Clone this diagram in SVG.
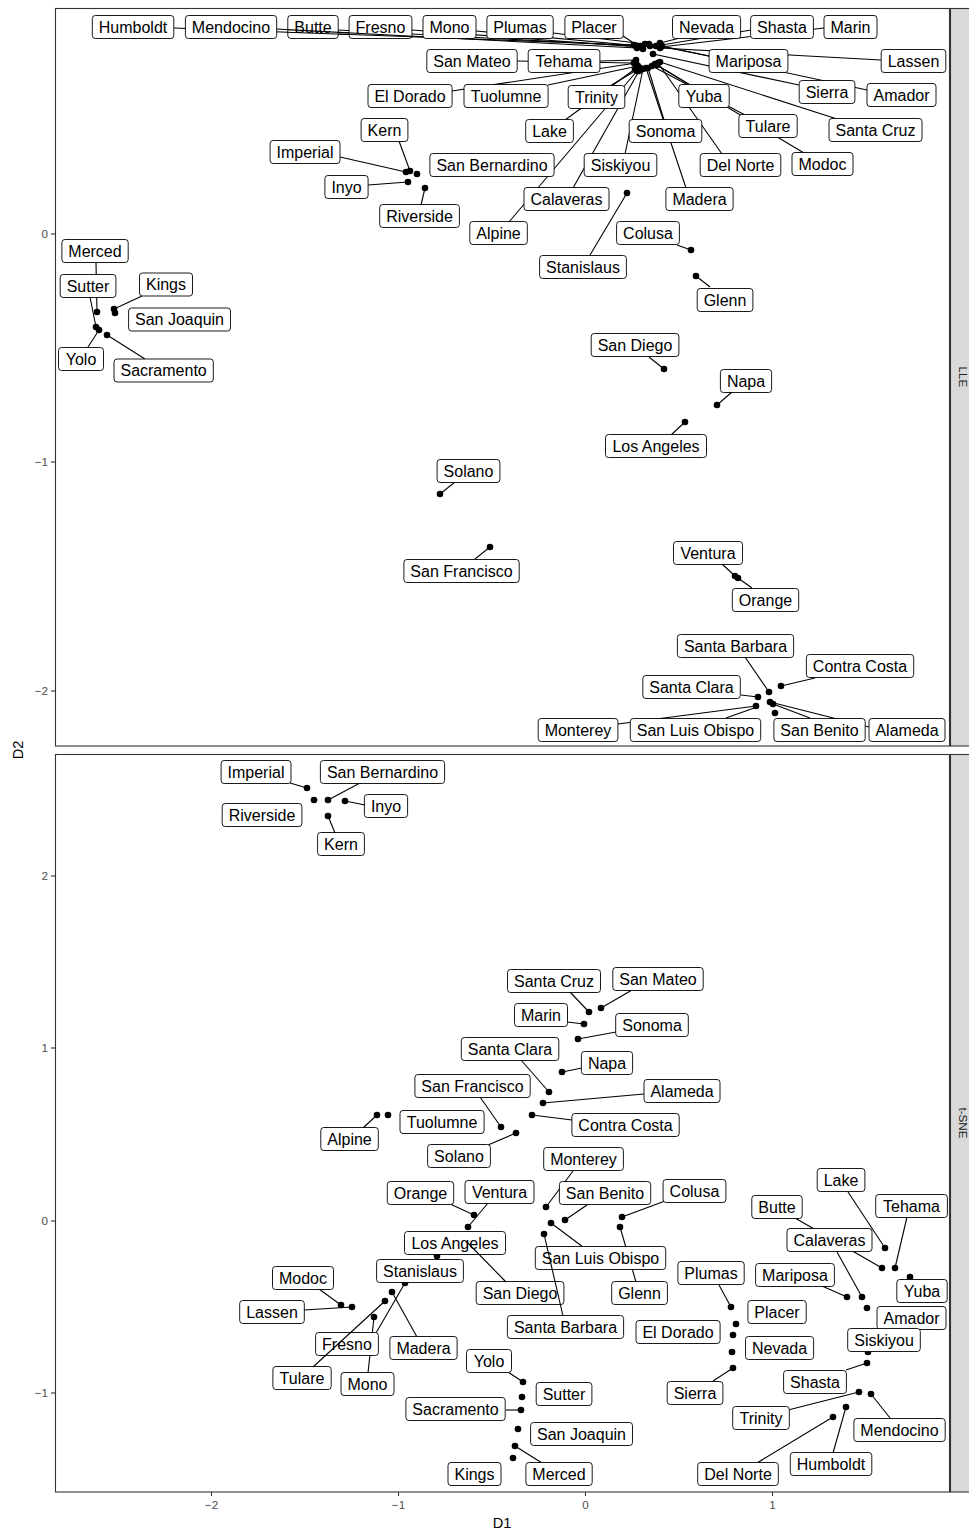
<svg xmlns="http://www.w3.org/2000/svg" width="969" height="1532" viewBox="0 0 969 1532">
<style>
.bg{fill:#fff}
.panel{fill:#fff;stroke:#333;stroke-width:1.1}
.strip{fill:#d9d9d9;stroke:#333;stroke-width:1.1}
.strip-t{font-family:"Liberation Sans",Arial,sans-serif;font-size:11.7px;fill:#1a1a1a;text-anchor:middle}
.tick{stroke:#333;stroke-width:1.1}
.tl{font-family:"Liberation Sans",Arial,sans-serif;font-size:11.7px;fill:#4d4d4d}
.at{font-family:"Liberation Sans",Arial,sans-serif;font-size:14.6px;fill:#000;text-anchor:middle}
.seg line{stroke:#000;stroke-width:1.1}
.pts circle{fill:#000}
.lbl rect{fill:#fff;stroke:#000;stroke-width:0.9}
.lbl text{font-family:"Liberation Sans",Arial,sans-serif;font-size:16px;fill:#000;text-anchor:middle}
</style>
<rect class="bg" x="0" y="0" width="969" height="1532"/>

<!-- ================= LLE panel ================= -->
<g id="panel-lle">
<rect class="panel" x="55.5" y="8.5" width="894" height="737.5"/>
<rect class="strip" x="950.5" y="8.5" width="30" height="737.5"/>
<text class="strip-t" transform="translate(959,377) rotate(90)">LLE</text>
<line class="tick" x1="51" y1="234" x2="55" y2="234"/>
<line class="tick" x1="51" y1="462" x2="55" y2="462"/>
<line class="tick" x1="51" y1="691" x2="55" y2="691"/>
<text class="tl" x="48" y="238" text-anchor="end">0</text>
<text class="tl" x="48" y="466" text-anchor="end">−1</text>
<text class="tl" x="48" y="695" text-anchor="end">−2</text>
</g>

<g id="points-lle" class="pts">
<circle cx="406" cy="172" r="3.3"/><circle cx="410" cy="171" r="3.3"/><circle cx="417" cy="174" r="3.3"/><circle cx="408" cy="182" r="3.3"/><circle cx="425" cy="188" r="3.3"/>
<circle cx="97" cy="312" r="3.3"/><circle cx="96" cy="327" r="3.3"/><circle cx="99" cy="330" r="3.3"/><circle cx="114" cy="309" r="3.3"/><circle cx="115" cy="313" r="3.3"/><circle cx="107" cy="335" r="3.3"/>
<circle cx="627" cy="193" r="3.3"/><circle cx="691" cy="250" r="3.3"/><circle cx="696" cy="276" r="3.3"/><circle cx="664" cy="369" r="3.3"/><circle cx="717" cy="405" r="3.3"/><circle cx="685" cy="422" r="3.3"/>
<circle cx="440" cy="494" r="3.3"/><circle cx="490" cy="547" r="3.3"/><circle cx="735" cy="576" r="3.3"/><circle cx="738" cy="578" r="3.3"/>
<circle cx="769" cy="692" r="3.3"/><circle cx="781" cy="686" r="3.3"/><circle cx="758" cy="697" r="3.3"/><circle cx="756" cy="706" r="3.3"/><circle cx="770" cy="702" r="3.3"/><circle cx="773" cy="704" r="3.3"/><circle cx="775" cy="713" r="3.3"/>
<circle cx="634" cy="45" r="3.3"/><circle cx="637" cy="48" r="3.3"/><circle cx="636" cy="46" r="3.3"/><circle cx="639" cy="47" r="3.3"/><circle cx="641" cy="46" r="3.3"/><circle cx="645" cy="44" r="3.3"/><circle cx="643" cy="49" r="3.3"/><circle cx="660" cy="43" r="3.3"/><circle cx="656" cy="46" r="3.3"/><circle cx="661" cy="47" r="3.3"/><circle cx="649" cy="44" r="3.3"/><circle cx="660" cy="48" r="3.3"/><circle cx="662" cy="46" r="3.3"/><circle cx="653" cy="54" r="3.3"/><circle cx="650" cy="46" r="3.3"/>
<circle cx="634" cy="63" r="3.3"/><circle cx="636" cy="60" r="3.3"/><circle cx="636" cy="63" r="3.3"/><circle cx="638" cy="66" r="3.3"/><circle cx="640" cy="68" r="3.3"/><circle cx="657" cy="65" r="3.3"/><circle cx="635" cy="69" r="3.3"/><circle cx="648" cy="68" r="3.3"/><circle cx="652" cy="66" r="3.3"/><circle cx="660" cy="62" r="3.3"/><circle cx="643" cy="69" r="3.3"/><circle cx="658" cy="63" r="3.3"/><circle cx="655" cy="64" r="3.3"/><circle cx="639" cy="71" r="3.3"/><circle cx="646" cy="68" r="3.3"/><circle cx="637" cy="71" r="3.3"/>
</g>

<g id="connectors-lle" class="seg">
<line x1="174" y1="28" x2="634" y2="45"/>
<line x1="276" y1="29" x2="637" y2="48"/>
<line x1="338" y1="30" x2="636" y2="46"/>
<line x1="412" y1="30" x2="639" y2="47"/>
<line x1="476" y1="31" x2="641" y2="46"/>
<line x1="553" y1="33" x2="645" y2="44"/>
<line x1="623" y1="36" x2="643" y2="49"/>
<line x1="680" y1="38" x2="660" y2="43"/>
<line x1="751" y1="30" x2="656" y2="46"/>
<line x1="824" y1="28" x2="661" y2="47"/>
<line x1="517" y1="61" x2="634" y2="63"/>
<line x1="600" y1="61" x2="636" y2="60"/>
<line x1="709" y1="56" x2="649" y2="44"/>
<line x1="881" y1="60" x2="660" y2="48"/>
<line x1="452" y1="91" x2="636" y2="63"/>
<line x1="548" y1="85" x2="638" y2="66"/>
<line x1="610" y1="86" x2="640" y2="68"/>
<line x1="690" y1="85" x2="657" y2="65"/>
<line x1="799" y1="85" x2="653" y2="54"/>
<line x1="867" y1="90" x2="662" y2="46"/>
<line x1="565" y1="120" x2="635" y2="69"/>
<line x1="664" y1="120" x2="648" y2="68"/>
<line x1="745" y1="115" x2="652" y2="66"/>
<line x1="837" y1="119" x2="660" y2="62"/>
<line x1="625" y1="154" x2="643" y2="69"/>
<line x1="722" y1="154" x2="658" y2="63"/>
<line x1="804" y1="153" x2="655" y2="64"/>
<line x1="573" y1="188" x2="639" y2="71"/>
<line x1="686" y1="188" x2="646" y2="68"/>
<line x1="509" y1="222" x2="637" y2="71"/>
<line x1="340" y1="157" x2="406" y2="172"/>
<line x1="399" y1="141" x2="410" y2="171"/>
<line x1="368" y1="185" x2="408" y2="182"/>
<line x1="421" y1="205" x2="425" y2="188"/>
<line x1="96" y1="263" x2="97" y2="312"/>
<line x1="90" y1="297" x2="96" y2="327"/>
<line x1="88" y1="347" x2="99" y2="330"/>
<line x1="142" y1="296" x2="114" y2="309"/>
<line x1="145" y1="359" x2="107" y2="335"/>
<line x1="590" y1="255" x2="627" y2="193"/>
<line x1="677" y1="245" x2="691" y2="250"/>
<line x1="710" y1="287" x2="696" y2="276"/>
<line x1="649" y1="357" x2="664" y2="369"/>
<line x1="732" y1="392" x2="717" y2="405"/>
<line x1="671" y1="435" x2="685" y2="422"/>
<line x1="455" y1="482" x2="440" y2="494"/>
<line x1="475" y1="559" x2="490" y2="547"/>
<line x1="722" y1="564" x2="735" y2="576"/>
<line x1="752" y1="588" x2="738" y2="578"/>
<line x1="745" y1="657" x2="769" y2="692"/>
<line x1="815" y1="678" x2="781" y2="686"/>
<line x1="741" y1="695" x2="758" y2="697"/>
<line x1="618" y1="724" x2="756" y2="706"/>
<line x1="726" y1="718" x2="757" y2="707"/>
<line x1="810" y1="718" x2="773" y2="704"/>
<line x1="869" y1="727" x2="770" y2="702"/>
</g>

<g id="lle-humboldt" class="lbl"><rect x="92.3" y="15.5" width="81.5" height="23" rx="3"/><text x="133" y="32.6">Humboldt</text></g>
<g id="lle-mendocino" class="lbl"><rect x="185.4" y="15.5" width="91.3" height="23" rx="3"/><text x="231" y="32.6">Mendocino</text></g>
<g id="lle-butte" class="lbl"><rect x="287.8" y="15.5" width="50.4" height="23" rx="3"/><text x="313" y="32.6">Butte</text></g>
<g id="lle-fresno" class="lbl"><rect x="349.1" y="15.5" width="62.8" height="23" rx="3"/><text x="380.5" y="32.6">Fresno</text></g>
<g id="lle-mono" class="lbl"><rect x="423" y="15.5" width="53" height="23" rx="3"/><text x="449.5" y="32.6">Mono</text></g>
<g id="lle-plumas" class="lbl"><rect x="486.9" y="15.5" width="66.3" height="23" rx="3"/><text x="520" y="32.6">Plumas</text></g>
<g id="lle-placer" class="lbl"><rect x="564.9" y="15.5" width="58.3" height="23" rx="3"/><text x="594" y="32.6">Placer</text></g>
<g id="lle-nevada" class="lbl"><rect x="672.5" y="15.5" width="68.1" height="23" rx="3"/><text x="706.5" y="32.6">Nevada</text></g>
<g id="lle-shasta" class="lbl"><rect x="750.6" y="15.5" width="62.8" height="23" rx="3"/><text x="782" y="32.6">Shasta</text></g>
<g id="lle-marin" class="lbl"><rect x="824" y="15.5" width="53" height="23" rx="3"/><text x="850.5" y="32.6">Marin</text></g>
<g id="lle-san-mateo" class="lbl"><rect x="426.8" y="49.5" width="90.4" height="23" rx="3"/><text x="472" y="66.6">San Mateo</text></g>
<g id="lle-tehama" class="lbl"><rect x="528.2" y="49.5" width="71.7" height="23" rx="3"/><text x="564" y="66.6">Tehama</text></g>
<g id="lle-mariposa" class="lbl"><rect x="709.1" y="49.5" width="78.8" height="23" rx="3"/><text x="748.5" y="66.6">Mariposa</text></g>
<g id="lle-lassen" class="lbl"><rect x="881.2" y="49.5" width="64.6" height="23" rx="3"/><text x="913.5" y="66.6">Lassen</text></g>
<g id="lle-el-dorado" class="lbl"><rect x="368" y="84.5" width="84.1" height="23" rx="3"/><text x="410" y="101.6">El Dorado</text></g>
<g id="lle-tuolumne" class="lbl"><rect x="464" y="84.5" width="84.1" height="23" rx="3"/><text x="506" y="101.6">Tuolumne</text></g>
<g id="lle-trinity" class="lbl"><rect x="568.2" y="85.5" width="56.6" height="23" rx="3"/><text x="596.5" y="102.6">Trinity</text></g>
<g id="lle-yuba" class="lbl"><rect x="678.8" y="84.5" width="50.4" height="23" rx="3"/><text x="704" y="101.6">Yuba</text></g>
<g id="lle-sierra" class="lbl"><rect x="799.2" y="80.5" width="55.7" height="23" rx="3"/><text x="827" y="97.6">Sierra</text></g>
<g id="lle-amador" class="lbl"><rect x="867" y="83.5" width="69" height="23" rx="3"/><text x="901.5" y="100.6">Amador</text></g>
<g id="lle-kern" class="lbl"><rect x="361.1" y="118.5" width="46.8" height="23" rx="3"/><text x="384.5" y="135.6">Kern</text></g>
<g id="lle-lake" class="lbl"><rect x="525.7" y="119.5" width="47.7" height="23" rx="3"/><text x="549.5" y="136.6">Lake</text></g>
<g id="lle-sonoma" class="lbl"><rect x="629.2" y="119.5" width="72.6" height="23" rx="3"/><text x="665.5" y="136.6">Sonoma</text></g>
<g id="lle-tulare" class="lbl"><rect x="738.9" y="114.5" width="58.3" height="23" rx="3"/><text x="768" y="131.6">Tulare</text></g>
<g id="lle-santa-cruz" class="lbl"><rect x="829" y="118.5" width="93" height="23" rx="3"/><text x="875.5" y="135.6">Santa Cruz</text></g>
<g id="lle-imperial" class="lbl"><rect x="270.1" y="140.5" width="69.9" height="23" rx="3"/><text x="305" y="157.6">Imperial</text></g>
<g id="lle-san-bernardino" class="lbl"><rect x="429.9" y="153.5" width="124.2" height="23" rx="3"/><text x="492" y="170.6">San Bernardino</text></g>
<g id="lle-siskiyou" class="lbl"><rect x="584.2" y="153.5" width="72.6" height="23" rx="3"/><text x="620.5" y="170.6">Siskiyou</text></g>
<g id="lle-del-norte" class="lbl"><rect x="700.2" y="153.5" width="80.6" height="23" rx="3"/><text x="740.5" y="170.6">Del Norte</text></g>
<g id="lle-modoc" class="lbl"><rect x="792" y="152.5" width="61" height="23" rx="3"/><text x="822.5" y="169.6">Modoc</text></g>
<g id="lle-inyo" class="lbl"><rect x="324.9" y="175.5" width="43.2" height="23" rx="3"/><text x="346.5" y="192.6">Inyo</text></g>
<g id="lle-calaveras" class="lbl"><rect x="524" y="187.5" width="85" height="23" rx="3"/><text x="566.5" y="204.6">Calaveras</text></g>
<g id="lle-madera" class="lbl"><rect x="665.9" y="187.5" width="67.2" height="23" rx="3"/><text x="699.5" y="204.6">Madera</text></g>
<g id="lle-riverside" class="lbl"><rect x="379.7" y="204.5" width="79.7" height="23" rx="3"/><text x="419.5" y="221.6">Riverside</text></g>
<g id="lle-alpine" class="lbl"><rect x="469.8" y="221.5" width="57.5" height="23" rx="3"/><text x="498.5" y="238.6">Alpine</text></g>
<g id="lle-colusa" class="lbl"><rect x="616.6" y="221.5" width="62.8" height="23" rx="3"/><text x="648" y="238.6">Colusa</text></g>
<g id="lle-stanislaus" class="lbl"><rect x="539.6" y="255.5" width="86.8" height="23" rx="3"/><text x="583" y="272.6">Stanislaus</text></g>
<g id="lle-glenn" class="lbl"><rect x="697.2" y="288.5" width="55.7" height="23" rx="3"/><text x="725" y="305.6">Glenn</text></g>
<g id="lle-merced" class="lbl"><rect x="61.9" y="239.5" width="66.3" height="23" rx="3"/><text x="95" y="256.6">Merced</text></g>
<g id="lle-sutter" class="lbl"><rect x="60.2" y="274.5" width="55.7" height="23" rx="3"/><text x="88" y="291.6">Sutter</text></g>
<g id="lle-kings" class="lbl"><rect x="139.5" y="273" width="53" height="23" rx="3"/><text x="166" y="290.1">Kings</text></g>
<g id="lle-san-joaquin" class="lbl"><rect x="128.6" y="308" width="101.9" height="23" rx="3"/><text x="179.5" y="325.1">San Joaquin</text></g>
<g id="lle-yolo" class="lbl"><rect x="58.5" y="347.5" width="45" height="23" rx="3"/><text x="81" y="364.6">Yolo</text></g>
<g id="lle-sacramento" class="lbl"><rect x="114" y="359" width="99.3" height="23" rx="3"/><text x="163.6" y="376.1">Sacramento</text></g>
<g id="lle-san-diego" class="lbl"><rect x="591.2" y="333.5" width="87.7" height="23" rx="3"/><text x="635" y="350.6">San Diego</text></g>
<g id="lle-napa" class="lbl"><rect x="720.4" y="369.5" width="51.2" height="23" rx="3"/><text x="746" y="386.6">Napa</text></g>
<g id="lle-los-angeles" class="lbl"><rect x="605.5" y="434.5" width="101" height="23" rx="3"/><text x="656" y="451.6">Los Angeles</text></g>
<g id="lle-solano" class="lbl"><rect x="437.1" y="459.5" width="62.8" height="23" rx="3"/><text x="468.5" y="476.6">Solano</text></g>
<g id="lle-san-francisco" class="lbl"><rect x="403.9" y="559.5" width="115.3" height="23" rx="3"/><text x="461.5" y="576.6">San Francisco</text></g>
<g id="lle-ventura" class="lbl"><rect x="673.5" y="541.5" width="69" height="23" rx="3"/><text x="708" y="558.6">Ventura</text></g>
<g id="lle-orange" class="lbl"><rect x="732.3" y="588.5" width="66.4" height="23" rx="3"/><text x="765.5" y="605.6">Orange</text></g>
<g id="lle-santa-barbara" class="lbl"><rect x="677.4" y="634.5" width="116.2" height="23" rx="3"/><text x="735.5" y="651.6">Santa Barbara</text></g>
<g id="lle-contra-costa" class="lbl"><rect x="806.4" y="654.5" width="107.3" height="23" rx="3"/><text x="860" y="671.6">Contra Costa</text></g>
<g id="lle-santa-clara" class="lbl"><rect x="642.8" y="675.5" width="97.5" height="23" rx="3"/><text x="691.5" y="692.6">Santa Clara</text></g>
<g id="lle-monterey" class="lbl"><rect x="538.2" y="718.5" width="79.7" height="23" rx="3"/><text x="578" y="735.6">Monterey</text></g>
<g id="lle-san-luis-obispo" class="lbl"><rect x="630.3" y="718.5" width="130.4" height="23" rx="3"/><text x="695.5" y="735.6">San Luis Obispo</text></g>
<g id="lle-san-benito" class="lbl"><rect x="773.9" y="718.5" width="91.3" height="23" rx="3"/><text x="819.5" y="735.6">San Benito</text></g>
<g id="lle-alameda" class="lbl"><rect x="869" y="718.5" width="76" height="23" rx="3"/><text x="907" y="735.6">Alameda</text></g>

<g id="connectors-lle-over" class="seg">
<line x1="287" y1="32.2" x2="413" y2="36.8"/>
<line x1="287" y1="29.6" x2="413" y2="36.2"/>
</g>

<!-- ================= t-SNE panel ================= -->
<g id="panel-tsne">
<rect class="panel" x="55.5" y="754.5" width="894" height="737.5"/>
<rect class="strip" x="950.5" y="754.5" width="30" height="737.5"/>
<text class="strip-t" transform="translate(959,1123) rotate(90)">t-SNE</text>
<line class="tick" x1="51" y1="876" x2="55" y2="876"/>
<line class="tick" x1="51" y1="1048" x2="55" y2="1048"/>
<line class="tick" x1="51" y1="1221" x2="55" y2="1221"/>
<line class="tick" x1="51" y1="1393" x2="55" y2="1393"/>
<text class="tl" x="48" y="880" text-anchor="end">2</text>
<text class="tl" x="48" y="1052" text-anchor="end">1</text>
<text class="tl" x="48" y="1225" text-anchor="end">0</text>
<text class="tl" x="48" y="1397" text-anchor="end">−1</text>
<line class="tick" x1="211.5" y1="1492" x2="211.5" y2="1496"/>
<line class="tick" x1="398.5" y1="1492" x2="398.5" y2="1496"/>
<line class="tick" x1="585.5" y1="1492" x2="585.5" y2="1496"/>
<line class="tick" x1="772.5" y1="1492" x2="772.5" y2="1496"/>
<text class="tl" x="211.5" y="1509" text-anchor="middle">−2</text>
<text class="tl" x="398.5" y="1509" text-anchor="middle">−1</text>
<text class="tl" x="585.5" y="1509" text-anchor="middle">0</text>
<text class="tl" x="772.5" y="1509" text-anchor="middle">1</text>
</g>
<text class="at" x="502" y="1528">D1</text>
<text class="at" transform="translate(23,750) rotate(-90)">D2</text>

<g id="points-tsne" class="pts">
<circle cx="307" cy="788" r="3.3"/><circle cx="328" cy="800" r="3.3"/><circle cx="314" cy="800" r="3.3"/><circle cx="345" cy="801" r="3.3"/><circle cx="328" cy="816" r="3.3"/>
<circle cx="589" cy="1012" r="3.3"/><circle cx="601" cy="1008" r="3.3"/><circle cx="584" cy="1024" r="3.3"/><circle cx="578" cy="1039" r="3.3"/><circle cx="549" cy="1092" r="3.3"/><circle cx="562" cy="1072" r="3.3"/><circle cx="501" cy="1127" r="3.3"/><circle cx="543" cy="1103" r="3.3"/><circle cx="532" cy="1115" r="3.3"/><circle cx="377" cy="1115" r="3.3"/><circle cx="388" cy="1115" r="3.3"/><circle cx="516" cy="1133" r="3.3"/>
<circle cx="546" cy="1207" r="3.3"/><circle cx="565" cy="1220" r="3.3"/><circle cx="622" cy="1217" r="3.3"/><circle cx="551" cy="1223" r="3.3"/><circle cx="544" cy="1234" r="3.3"/><circle cx="620" cy="1227" r="3.3"/>
<circle cx="474" cy="1215" r="3.3"/><circle cx="468" cy="1227" r="3.3"/><circle cx="437" cy="1256" r="3.3"/><circle cx="466" cy="1241" r="3.3"/><circle cx="405" cy="1283" r="3.3"/><circle cx="392" cy="1292" r="3.3"/><circle cx="385" cy="1301" r="3.3"/><circle cx="341" cy="1305" r="3.3"/><circle cx="352" cy="1307" r="3.3"/><circle cx="374" cy="1317" r="3.3"/>
<circle cx="523" cy="1382" r="3.3"/><circle cx="522" cy="1397" r="3.3"/><circle cx="521" cy="1410" r="3.3"/><circle cx="518" cy="1429" r="3.3"/><circle cx="515" cy="1446" r="3.3"/><circle cx="513" cy="1458" r="3.3"/>
<circle cx="885" cy="1248" r="3.3"/><circle cx="882" cy="1268" r="3.3"/><circle cx="895" cy="1268" r="3.3"/><circle cx="910" cy="1277" r="3.3"/><circle cx="862" cy="1297" r="3.3"/><circle cx="847" cy="1297" r="3.3"/><circle cx="867" cy="1308" r="3.3"/><circle cx="868" cy="1352" r="3.3"/><circle cx="867" cy="1363" r="3.3"/><circle cx="859" cy="1392" r="3.3"/><circle cx="871" cy="1394" r="3.3"/><circle cx="846" cy="1407" r="3.3"/><circle cx="833" cy="1417" r="3.3"/>
<circle cx="731" cy="1307" r="3.3"/><circle cx="736" cy="1324" r="3.3"/><circle cx="733" cy="1335" r="3.3"/><circle cx="732" cy="1352" r="3.3"/><circle cx="733" cy="1368" r="3.3"/>
</g>

<g id="connectors-tsne" class="seg">
<line x1="290" y1="783" x2="307" y2="788"/>
<line x1="360" y1="783" x2="328" y2="800"/>
<line x1="365" y1="805" x2="345" y2="801"/>
<line x1="335" y1="833" x2="328" y2="816"/>
<line x1="570" y1="992" x2="589" y2="1012"/>
<line x1="632" y1="990" x2="601" y2="1008"/>
<line x1="567" y1="1022" x2="584" y2="1024"/>
<line x1="616" y1="1032" x2="578" y2="1039"/>
<line x1="521" y1="1060" x2="549" y2="1092"/>
<line x1="582" y1="1068" x2="562" y2="1072"/>
<line x1="480" y1="1097" x2="501" y2="1127"/>
<line x1="644" y1="1094" x2="543" y2="1103"/>
<line x1="572" y1="1120" x2="532" y2="1115"/>
<line x1="363" y1="1128" x2="377" y2="1115"/>
<line x1="488" y1="1145" x2="516" y2="1133"/>
<line x1="573" y1="1171" x2="546" y2="1207"/>
<line x1="587" y1="1205" x2="565" y2="1220"/>
<line x1="665" y1="1201" x2="622" y2="1217"/>
<line x1="583" y1="1247" x2="551" y2="1223"/>
<line x1="636" y1="1282" x2="620" y2="1227"/>
<line x1="448" y1="1203" x2="474" y2="1215"/>
<line x1="488" y1="1203" x2="468" y2="1227"/>
<line x1="376" y1="1333" x2="405" y2="1283"/>
<line x1="417" y1="1337" x2="392" y2="1292"/>
<line x1="319" y1="1289" x2="341" y2="1305"/>
<line x1="304" y1="1310" x2="352" y2="1307"/>
<line x1="368" y1="1373" x2="374" y2="1317"/>
<line x1="508" y1="1372" x2="523" y2="1382"/>
<line x1="506" y1="1410" x2="521" y2="1410"/>
<line x1="542" y1="1463" x2="515" y2="1446"/>
<line x1="848" y1="1192" x2="885" y2="1248"/>
<line x1="795" y1="1218" x2="882" y2="1268"/>
<line x1="907" y1="1217" x2="895" y2="1268"/>
<line x1="837" y1="1252" x2="862" y2="1297"/>
<line x1="822" y1="1286" x2="847" y2="1297"/>
<line x1="846" y1="1370" x2="867" y2="1363"/>
<line x1="788" y1="1410" x2="859" y2="1392"/>
<line x1="890" y1="1418" x2="871" y2="1394"/>
<line x1="833" y1="1453" x2="846" y2="1407"/>
<line x1="757" y1="1463" x2="833" y2="1417"/>
<line x1="719" y1="1285" x2="731" y2="1307"/>
<line x1="713" y1="1381" x2="733" y2="1368"/>
</g>

<g id="tsne-imperial" class="lbl"><rect x="221.1" y="760.5" width="69.9" height="23" rx="3"/><text x="256" y="777.6">Imperial</text></g>
<g id="tsne-san-bernardino" class="lbl"><rect x="320.4" y="760.5" width="124.2" height="23" rx="3"/><text x="382.5" y="777.6">San Bernardino</text></g>
<g id="tsne-inyo" class="lbl"><rect x="364.4" y="794.5" width="43.2" height="23" rx="3"/><text x="386" y="811.6">Inyo</text></g>
<g id="tsne-riverside" class="lbl"><rect x="222.2" y="803.5" width="79.7" height="23" rx="3"/><text x="262" y="820.6">Riverside</text></g>
<g id="tsne-kern" class="lbl"><rect x="317.6" y="832.5" width="46.8" height="23" rx="3"/><text x="341" y="849.6">Kern</text></g>
<g id="tsne-santa-cruz" class="lbl"><rect x="507.5" y="969.5" width="93" height="23" rx="3"/><text x="554" y="986.6">Santa Cruz</text></g>
<g id="tsne-san-mateo" class="lbl"><rect x="612.8" y="967.5" width="90.4" height="23" rx="3"/><text x="658" y="984.6">San Mateo</text></g>
<g id="tsne-marin" class="lbl"><rect x="514.5" y="1003.5" width="53" height="23" rx="3"/><text x="541" y="1020.6">Marin</text></g>
<g id="tsne-sonoma" class="lbl"><rect x="615.7" y="1013.5" width="72.6" height="23" rx="3"/><text x="652" y="1030.6">Sonoma</text></g>
<g id="tsne-santa-clara" class="lbl"><rect x="461.3" y="1037.5" width="97.5" height="23" rx="3"/><text x="510" y="1054.6">Santa Clara</text></g>
<g id="tsne-napa" class="lbl"><rect x="581.4" y="1051.5" width="51.2" height="23" rx="3"/><text x="607" y="1068.6">Napa</text></g>
<g id="tsne-san-francisco" class="lbl"><rect x="414.9" y="1074.5" width="115.3" height="23" rx="3"/><text x="472.5" y="1091.6">San Francisco</text></g>
<g id="tsne-alameda" class="lbl"><rect x="644" y="1079.5" width="76" height="23" rx="3"/><text x="682" y="1096.6">Alameda</text></g>
<g id="tsne-tuolumne" class="lbl"><rect x="400" y="1110.5" width="84.1" height="23" rx="3"/><text x="442" y="1127.6">Tuolumne</text></g>
<g id="tsne-contra-costa" class="lbl"><rect x="571.9" y="1113.5" width="107.3" height="23" rx="3"/><text x="625.5" y="1130.6">Contra Costa</text></g>
<g id="tsne-alpine" class="lbl"><rect x="320.8" y="1127.5" width="57.5" height="23" rx="3"/><text x="349.5" y="1144.6">Alpine</text></g>
<g id="tsne-solano" class="lbl"><rect x="427.6" y="1144.5" width="62.8" height="23" rx="3"/><text x="459" y="1161.6">Solano</text></g>
<g id="tsne-monterey" class="lbl"><rect x="543.7" y="1147.5" width="79.7" height="23" rx="3"/><text x="583.5" y="1164.6">Monterey</text></g>
<g id="tsne-orange" class="lbl"><rect x="387.3" y="1181.5" width="66.4" height="23" rx="3"/><text x="420.5" y="1198.6">Orange</text></g>
<g id="tsne-ventura" class="lbl"><rect x="465" y="1180.5" width="69" height="23" rx="3"/><text x="499.5" y="1197.6">Ventura</text></g>
<g id="tsne-san-benito" class="lbl"><rect x="559.4" y="1181.5" width="91.3" height="23" rx="3"/><text x="605" y="1198.6">San Benito</text></g>
<g id="tsne-colusa" class="lbl"><rect x="663.1" y="1179.5" width="62.8" height="23" rx="3"/><text x="694.5" y="1196.6">Colusa</text></g>
<g id="tsne-lake" class="lbl"><rect x="817.2" y="1168.5" width="47.7" height="23" rx="3"/><text x="841" y="1185.6">Lake</text></g>
<g id="tsne-butte" class="lbl"><rect x="751.8" y="1195.5" width="50.4" height="23" rx="3"/><text x="777" y="1212.6">Butte</text></g>
<g id="tsne-tehama" class="lbl"><rect x="875.7" y="1194.5" width="71.7" height="23" rx="3"/><text x="911.5" y="1211.6">Tehama</text></g>
<g id="tsne-calaveras" class="lbl"><rect x="787" y="1228.5" width="85" height="23" rx="3"/><text x="829.5" y="1245.6">Calaveras</text></g>
<g id="tsne-los-angeles" class="lbl"><rect x="404.5" y="1231.5" width="101" height="23" rx="3"/><text x="455" y="1248.6">Los Angeles</text></g>
<g id="tsne-san-luis-obispo" class="lbl"><rect x="535.3" y="1246.5" width="130.4" height="23" rx="3"/><text x="600.5" y="1263.6">San Luis Obispo</text></g>
<g id="tsne-stanislaus" class="lbl"><rect x="376.6" y="1259.5" width="86.8" height="23" rx="3"/><text x="420" y="1276.6">Stanislaus</text></g>
<g id="tsne-modoc" class="lbl"><rect x="272.5" y="1266.5" width="61" height="23" rx="3"/><text x="303" y="1283.6">Modoc</text></g>
<g id="tsne-plumas" class="lbl"><rect x="677.9" y="1261.5" width="66.3" height="23" rx="3"/><text x="711" y="1278.6">Plumas</text></g>
<g id="tsne-mariposa" class="lbl"><rect x="755.6" y="1263.5" width="78.8" height="23" rx="3"/><text x="795" y="1280.6">Mariposa</text></g>
<g id="tsne-yuba" class="lbl"><rect x="896.8" y="1279.5" width="50.4" height="23" rx="3"/><text x="922" y="1296.6">Yuba</text></g>
<g id="tsne-san-diego" class="lbl"><rect x="476.2" y="1281.5" width="87.7" height="23" rx="3"/><text x="520" y="1298.6">San Diego</text></g>
<g id="tsne-glenn" class="lbl"><rect x="611.7" y="1281.5" width="55.7" height="23" rx="3"/><text x="639.5" y="1298.6">Glenn</text></g>
<g id="tsne-lassen" class="lbl"><rect x="239.7" y="1300.5" width="64.6" height="23" rx="3"/><text x="272" y="1317.6">Lassen</text></g>
<g id="tsne-placer" class="lbl"><rect x="747.9" y="1300.5" width="58.3" height="23" rx="3"/><text x="777" y="1317.6">Placer</text></g>
<g id="tsne-amador" class="lbl"><rect x="877" y="1306.5" width="69" height="23" rx="3"/><text x="911.5" y="1323.6">Amador</text></g>
<g id="tsne-santa-barbara" class="lbl"><rect x="507.4" y="1315.5" width="116.2" height="23" rx="3"/><text x="565.5" y="1332.6">Santa Barbara</text></g>
<g id="tsne-el-dorado" class="lbl"><rect x="636" y="1320.5" width="84.1" height="23" rx="3"/><text x="678" y="1337.6">El Dorado</text></g>
<g id="tsne-siskiyou" class="lbl"><rect x="847.7" y="1328.5" width="72.6" height="23" rx="3"/><text x="884" y="1345.6">Siskiyou</text></g>
<g id="tsne-fresno" class="lbl"><rect x="315.6" y="1332.5" width="62.8" height="23" rx="3"/><text x="347" y="1349.6">Fresno</text></g>
<g id="tsne-madera" class="lbl"><rect x="389.9" y="1336.5" width="67.2" height="23" rx="3"/><text x="423.5" y="1353.6">Madera</text></g>
<g id="tsne-nevada" class="lbl"><rect x="745.5" y="1336.5" width="68.1" height="23" rx="3"/><text x="779.5" y="1353.6">Nevada</text></g>
<g id="tsne-yolo" class="lbl"><rect x="466.5" y="1349.5" width="45" height="23" rx="3"/><text x="489" y="1366.6">Yolo</text></g>
<g id="tsne-tulare" class="lbl"><rect x="272.9" y="1366.5" width="58.3" height="23" rx="3"/><text x="302" y="1383.6">Tulare</text></g>
<g id="tsne-mono" class="lbl"><rect x="341" y="1372.5" width="53" height="23" rx="3"/><text x="367.5" y="1389.6">Mono</text></g>
<g id="tsne-shasta" class="lbl"><rect x="783.6" y="1370.5" width="62.8" height="23" rx="3"/><text x="815" y="1387.6">Shasta</text></g>
<g id="tsne-sierra" class="lbl"><rect x="667.2" y="1381.5" width="55.7" height="23" rx="3"/><text x="695" y="1398.6">Sierra</text></g>
<g id="tsne-sutter" class="lbl"><rect x="536.2" y="1382.5" width="55.7" height="23" rx="3"/><text x="564" y="1399.6">Sutter</text></g>
<g id="tsne-sacramento" class="lbl"><rect x="405.9" y="1397.5" width="99.3" height="23" rx="3"/><text x="455.5" y="1414.6">Sacramento</text></g>
<g id="tsne-trinity" class="lbl"><rect x="732.7" y="1406.5" width="56.6" height="23" rx="3"/><text x="761" y="1423.6">Trinity</text></g>
<g id="tsne-mendocino" class="lbl"><rect x="853.9" y="1418.5" width="91.3" height="23" rx="3"/><text x="899.5" y="1435.6">Mendocino</text></g>
<g id="tsne-san-joaquin" class="lbl"><rect x="530.6" y="1422.5" width="101.9" height="23" rx="3"/><text x="581.5" y="1439.6">San Joaquin</text></g>
<g id="tsne-humboldt" class="lbl"><rect x="790.3" y="1452.5" width="81.5" height="23" rx="3"/><text x="831" y="1469.6">Humboldt</text></g>
<g id="tsne-kings" class="lbl"><rect x="448" y="1462.5" width="53" height="23" rx="3"/><text x="474.5" y="1479.6">Kings</text></g>
<g id="tsne-merced" class="lbl"><rect x="525.9" y="1462.5" width="66.3" height="23" rx="3"/><text x="559" y="1479.6">Merced</text></g>
<g id="tsne-del-norte" class="lbl"><rect x="697.7" y="1462.5" width="80.6" height="23" rx="3"/><text x="738" y="1479.6">Del Norte</text></g>

<g id="connectors-tsne-over" class="seg">
<line x1="506" y1="1282" x2="466" y2="1241"/>
<line x1="563" y1="1316" x2="544" y2="1234"/>
<line x1="313" y1="1367" x2="385" y2="1301"/>
</g>
</svg>
